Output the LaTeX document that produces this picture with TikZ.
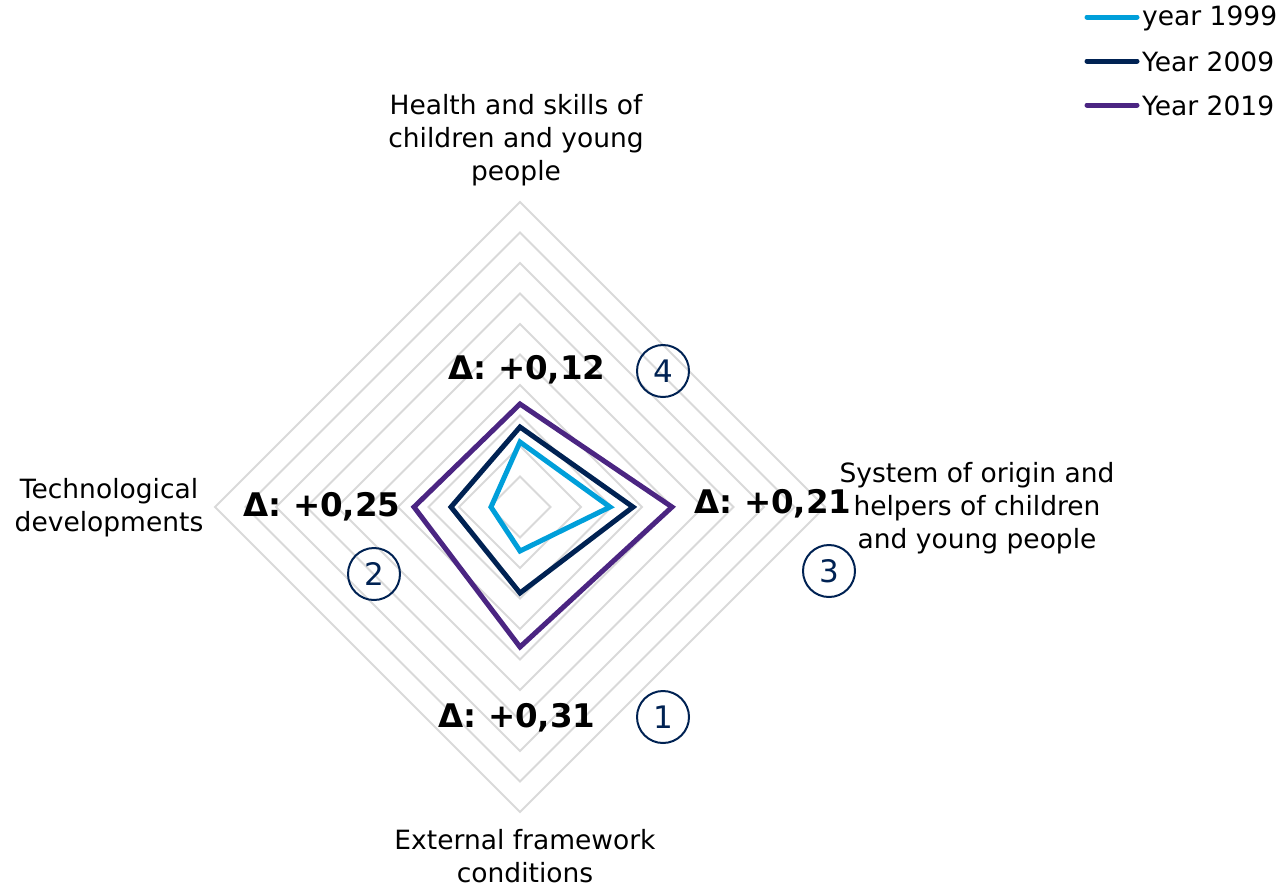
\documentclass[tikz,border=0pt]{standalone}
\usepackage{fontspec}
\setmainfont{DejaVu Sans}
\begin{document}
\begin{tikzpicture}[x=1pt,y=-1pt,
  gridring/.style={draw=gridgray,line width=1.8pt},
  series/.style={line width=5pt,line join=miter},
  axislabel/.style={inner sep=0pt,align=center,font=\fontsize{26.5}{33}\selectfont,text=black},
  deltalabel/.style={inner sep=0pt,font=\fontsize{32.5}{36}\selectfont\bfseries,text=black},
  numcircle/.style={circle,draw=navy,line width=2pt,minimum size=52pt,inner sep=0pt,text=navy,font=\fontsize{31}{32}\selectfont},
  legline/.style={line width=5pt,line cap=round},
  legtext/.style={inner sep=0pt,anchor=west,font=\fontsize{26.5}{30}\selectfont}]
\definecolor{gridgray}{HTML}{D9D9D9}
\definecolor{lightblue}{HTML}{009FDA}
\definecolor{navy}{HTML}{002253}
\definecolor{purple}{HTML}{4B2582}
\useasboundingbox (0,0) rectangle (1282,887);
% grid
\foreach \k in {1,...,10}{
  \draw[gridring] (520,{507-30.5*\k}) -- ({520+30.5*\k},507) -- (520,{507+30.5*\k}) -- ({520-30.5*\k},507) -- cycle;
}
% series
\draw[series,lightblue] (520,442) -- (610,507) -- (520,551) -- (491,507) -- cycle;
\draw[series,navy] (520,427) -- (633,507) -- (520,593) -- (451,507) -- cycle;
\draw[series,purple] (520,404) -- (672,507) -- (520,647) -- (414,507) -- cycle;
% axis labels
\node[axislabel] (top) at (516,140) {Health and skills of\\children and young\\people};
\node[axislabel] (right) at (977,508) {System of origin and\\helpers of children\\and young people};
\node[axislabel] (left) at (109,508) {Technological\\developments};
\node[axislabel] (bottom) at (525,856) {External framework\\conditions};
% delta labels
\node[deltalabel] (d4) at (527,370) {Δ: +0,12};
\node[deltalabel] (d2) at (322,507) {Δ: +0,25};
\node[deltalabel] (d3) at (773,504) {Δ: +0,21};
\node[deltalabel] (d1) at (517,718) {Δ: +0,31};
% numbered circles
\node[numcircle] (c4) at (663,371) {4};
\node[numcircle] (c3) at (829,571) {3};
\node[numcircle] (c2) at (374,574) {2};
\node[numcircle] (c1) at (663,717) {1};
% legend
\node[legtext] (l1) at (1142,18) {year 1999};
\node[legtext] (l2) at (1142,62) {Year 2009};
\node[legtext] (l3) at (1142,106) {Year 2019};
\coordinate (s1) at (1087,17);
\coordinate (s2) at (1087,61);
\coordinate (s3) at (1087,105);
\coordinate (e1) at (1137,17);
\coordinate (e2) at (1137,61);
\coordinate (e3) at (1137,105);
\draw[legline,lightblue] (s1) -- (e1);
\draw[legline,navy] (s2) -- (e2);
\draw[legline,purple] (s3) -- (e3);
\end{tikzpicture}
\end{document}
